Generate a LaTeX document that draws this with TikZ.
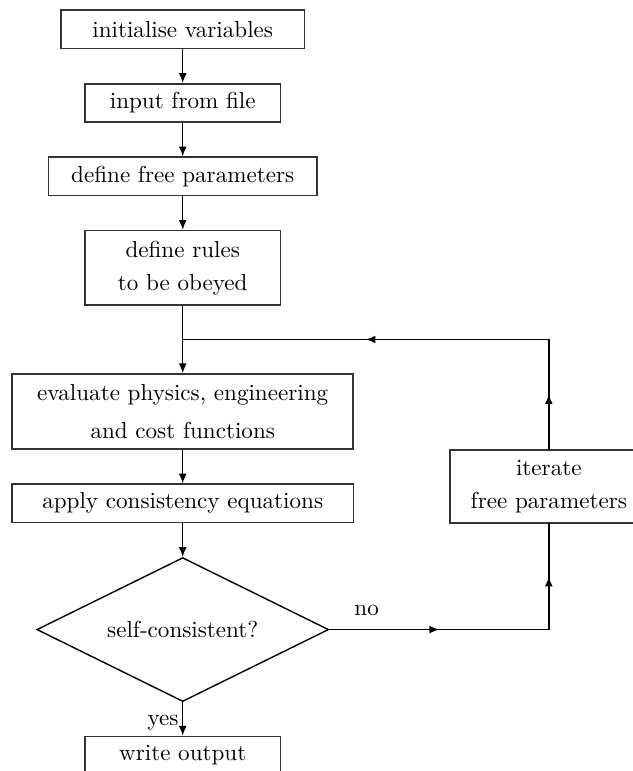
\documentclass[tikz,border=0pt]{standalone}
\usetikzlibrary{%
   arrows.meta,%
   shapes.geometric,%
   matrix,%
   positioning,%
   decorations.markings%
}

\begin{document}
\begin{tikzpicture}[process/.style={
	rectangle,
	minimum height=5.8mm,
	inner sep=0pt,
	line width=0.7pt,
	draw=black!80,
	align=center
	},decision/.style={
	diamond,
	minimum width=44.4mm,minimum height=21.9mm,
	inner sep=0pt,aspect=2,
	semithick,draw=black
	},point1/.style={
	coordinate
	},flow/.style={
	-{Latex[length=4.2pt,width=3.4pt]},semithick
	},midarrow/.style={
	semithick,line cap=rect,
	postaction={decorate},
	decoration={markings,mark=at position 0.5 with {\arrow{Latex[length=4.2pt,width=3.4pt]}}}
	}
]

% page frame
\useasboundingbox (0,0) rectangle (96.3mm,-117.3mm);
\clip (0,0) rectangle (96.3mm,-117.3mm);

\matrix[row sep=5.13mm,inner sep=0pt,anchor=north] at (27.8mm,-1.37mm) {
\node (atomInit) [process,minimum width=37.1mm] {initialise variables}; \\
\node (atomInput) [process,minimum width=29.8mm] {input from file}; \\
\node (atomFree) [process,minimum width=40.9mm] {define free parameters}; \\
\node (atomRules) [process,minimum width=29.8mm,minimum height=11.3mm] {define rules\\[2.3pt] to be obeyed}; \\
\node (POSJ) [point1] {}; \\
% loop body
\node (atomEval) [process,minimum width=51.9mm,minimum height=11.4mm] {evaluate physics, engineering\\[4.4pt] and cost functions}; \\
\node (atomApply) [process,minimum width=52mm] {apply consistency equations}; \\
\node (atomTest) [decision] {self-consistent?}; \\
\node (atomWrite) [process,minimum width=29.8mm] {write output}; \\
};

\node (atomIter) [process,minimum width=30.1mm,minimum height=11.1mm,
	below right=-0.1mm and 14.45mm of atomEval.south east] {iterate\\[2.3pt] free parameters};

\coordinate (POSK) at (atomIter.north |- POSJ);
\coordinate (POSL) at (atomIter.south |- atomTest.east);

\draw[flow] (atomInit) -- (atomInput);
\draw[flow] (atomInput) -- (atomFree);
\draw[flow] (atomFree) -- (atomRules);
\draw[flow] (atomRules) -- (atomEval);
\draw[flow] (atomEval) -- (atomApply);
\draw[flow] (atomApply) -- (atomTest);
\draw[flow] (atomTest) -- node[left,pos=0.6,inner sep=1.5pt] {yes} (atomWrite);

% feedback loop
\draw[midarrow] (atomTest.east) -- node[above=2.5pt,pos=0.17] {no} (POSL);
\draw[midarrow] (POSL) -- (atomIter.south);
\draw[midarrow] (atomIter.north) -- (POSK);
\draw[midarrow] (POSK) -- (POSJ);

\end{tikzpicture}
\end{document}
